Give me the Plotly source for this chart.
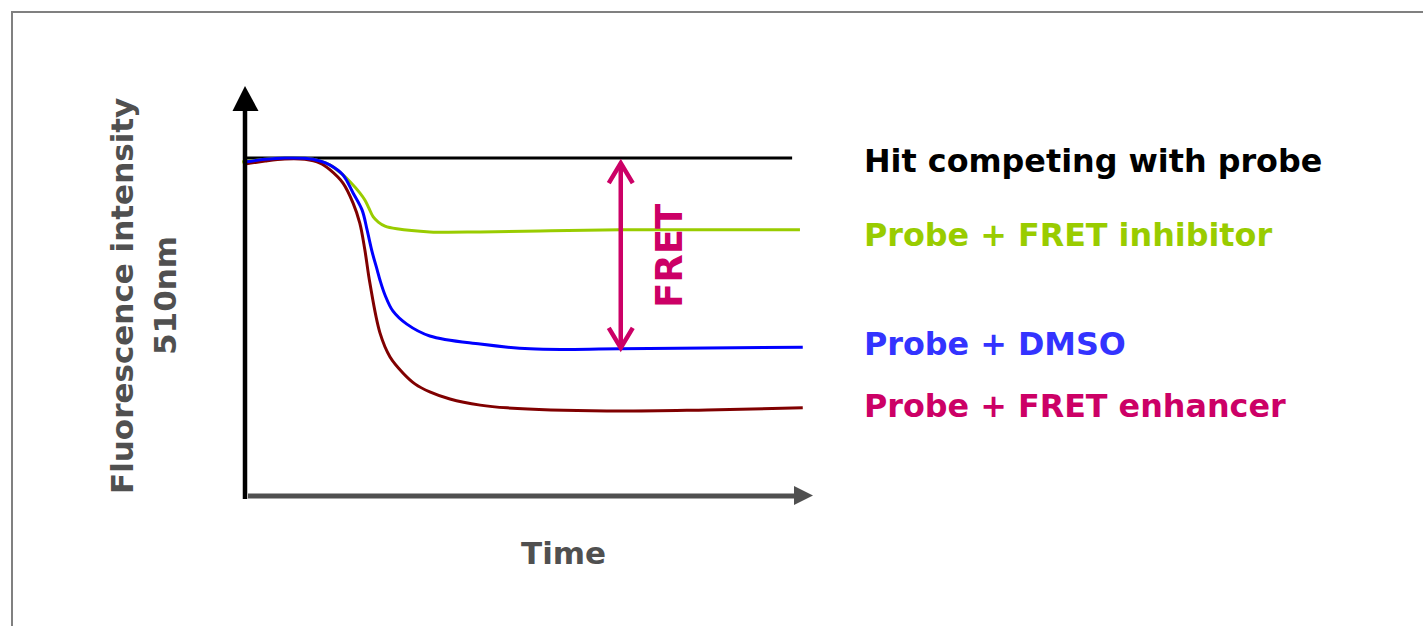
import plotly.graph_objects as go

# Time axis (arbitrary units) and fluorescence intensity at 510 nm (baseline = 100)
hit_t = [0.0, 97.7]
hit_i = [100.0, 100.0]

inhibitor_t = [-0.5, 3.6, 7.1, 10.7, 13.4, 15.2, 17.5, 18.8, 20.5, 21.4, 22.1, 22.9, 23.8, 25.0, 27.1,
               33.0, 42.0, 52.7, 67.0, 99.1]
inhibitor_i = [98.8, 99.6, 100.0, 99.9, 99.1, 97.9, 95.0, 92.9, 89.7, 87.6, 85.3, 82.6, 81.1, 79.9, 79.1,
               78.2, 78.2, 78.5, 78.8, 78.8]

dmso_t = [0.0, 3.6, 7.1, 10.7, 13.4, 15.2, 17.5, 19.3, 20.9, 21.8, 22.7, 23.6, 24.1, 25.0, 26.4,
          28.9, 33.0, 42.0, 50.9, 67.0, 99.6]
dmso_i = [98.8, 99.6, 100.0, 99.9, 99.1, 97.9, 95.0, 89.7, 84.7, 78.8, 72.3, 67.0, 64.0, 59.6, 54.9,
          51.0, 47.5, 45.1, 43.7, 43.7, 44.2]

enhancer_t = [0.0, 3.6, 7.1, 10.7, 13.4, 15.2, 17.5, 19.3, 20.5, 21.4, 22.3, 24.1, 25.9, 28.2, 30.4,
              33.0, 36.6, 42.0, 46.8, 64.6, 82.5, 99.6]
enhancer_i = [98.2, 99.1, 99.7, 99.6, 98.5, 96.5, 92.6, 86.7, 80.8, 72.9, 63.1, 48.4, 41.3, 36.6, 33.3,
              31.0, 28.9, 27.1, 26.3, 25.4, 25.7, 26.3]

series_names = ["Hit competing with probe", "Probe + FRET inhibitor",
                "Probe + DMSO", "Probe + FRET enhancer"]

# FRET window: from the hit baseline down to the DMSO plateau
fret_t = 67.1
fret_top = 98.5
fret_bottom = 44.0

W, H = 1423, 626
PX_T, PX_I = 5.6, 3.39          # pixels per data unit
X0, Y0 = 245, 497               # pixel position of the origin


def px(x):
    return x / W


def py(y):
    return 1 - y / H


GREY = "#505050"
MAGENTA = "#CC0066"
FONT = "DejaVu Sans"

fig = go.Figure()

line_style = dict(shape="spline", smoothing=1.0)
fig.add_trace(go.Scatter(x=hit_t, y=hit_i, mode="lines",
                         line=dict(color="black", width=3), name=series_names[0]))
fig.add_trace(go.Scatter(x=inhibitor_t, y=inhibitor_i, mode="lines",
                         line=dict(color="#99CC00", width=3, **line_style), name=series_names[1]))
fig.add_trace(go.Scatter(x=enhancer_t, y=enhancer_i, mode="lines",
                         line=dict(color="#800000", width=3, **line_style), name=series_names[3]))
fig.add_trace(go.Scatter(x=dmso_t, y=dmso_i, mode="lines",
                         line=dict(color="#0000FF", width=3, **line_style), name=series_names[2]))

# Double-headed FRET arrow with open chevron heads
dx, dy = 12 / PX_T, 20 / PX_I
arrow_x = [fret_t, fret_t, None,
           fret_t - dx, fret_t, fret_t + dx, None,
           fret_t - dx, fret_t, fret_t + dx]
arrow_y = [fret_top, fret_bottom, None,
           fret_top - dy, fret_top, fret_top - dy, None,
           fret_bottom + dy, fret_bottom, fret_bottom + dy]
fig.add_trace(go.Scatter(x=arrow_x, y=arrow_y, mode="lines",
                         line=dict(color=MAGENTA, width=4.5), showlegend=False))

shapes = [
    # outer frame
    dict(type="rect", xref="paper", yref="paper",
         x0=px(12), y0=py(12), x1=px(W + 20), y1=py(H + 20),
         line=dict(color="#808080", width=2), fillcolor="rgba(0,0,0,0)", layer="below"),
    # vertical axis with arrowhead
    dict(type="line", xref="paper", yref="paper",
         x0=px(245), y0=py(499), x1=px(245), y1=py(105),
         line=dict(color="black", width=4.5)),
    dict(type="path", xref="paper", yref="paper",
         path=f"M {px(245)},{py(86)} L {px(232.5)},{py(111)} L {px(258.5)},{py(111)} Z",
         fillcolor="black", line=dict(width=0)),
    # horizontal axis with arrowhead
    dict(type="line", xref="paper", yref="paper",
         x0=px(248), y0=py(496), x1=px(796), y1=py(496),
         line=dict(color=GREY, width=5)),
    dict(type="path", xref="paper", yref="paper",
         path=f"M {px(813)},{py(495.5)} L {px(794)},{py(486)} L {px(794)},{py(505)} Z",
         fillcolor=GREY, line=dict(width=0)),
]

label_font = dict(family=FONT, size=31, color=GREY)
annotations = [
    dict(text="<b>Time</b>", x=px(563), y=py(553), xref="paper", yref="paper",
         showarrow=False, font=label_font, xanchor="center", yanchor="middle"),
    dict(text="<b>Fluorescence intensity</b>", x=px(122), y=py(296), xref="paper", yref="paper",
         showarrow=False, font=label_font, textangle=-90, xanchor="center", yanchor="middle"),
    dict(text="<b>510nm</b>", x=px(165), y=py(296), xref="paper", yref="paper",
         showarrow=False, font=label_font, textangle=-90, xanchor="center", yanchor="middle"),
    dict(text="<b>FRET</b>", x=px(669), y=py(256), xref="paper", yref="paper",
         showarrow=False, font=dict(family=FONT, size=37, color=MAGENTA),
         textangle=-90, xanchor="center", yanchor="middle"),
]

label_colors = ["black", "#99CC00", "#3333FF", MAGENTA]
label_rows = [161, 234, 343, 405]
for name, color, row in zip(series_names, label_colors, label_rows):
    annotations.append(dict(text=f"<b>{name}</b>", x=px(862), y=py(row),
                            xref="paper", yref="paper", showarrow=False,
                            font=dict(family=FONT, size=31.8, color=color),
                            xanchor="left", yanchor="middle"))

fig.update_layout(
    width=W, height=H,
    margin=dict(l=0, r=0, t=0, b=0),
    paper_bgcolor="white", plot_bgcolor="white",
    showlegend=False,
    shapes=shapes,
    annotations=annotations,
    xaxis=dict(range=[(0 - X0) / PX_T, (W - X0) / PX_T], visible=False, fixedrange=True),
    yaxis=dict(range=[(Y0 - H) / PX_I, Y0 / PX_I], visible=False, fixedrange=True),
)

fig.write_html("out.html", config={"displayModeBar": False})
